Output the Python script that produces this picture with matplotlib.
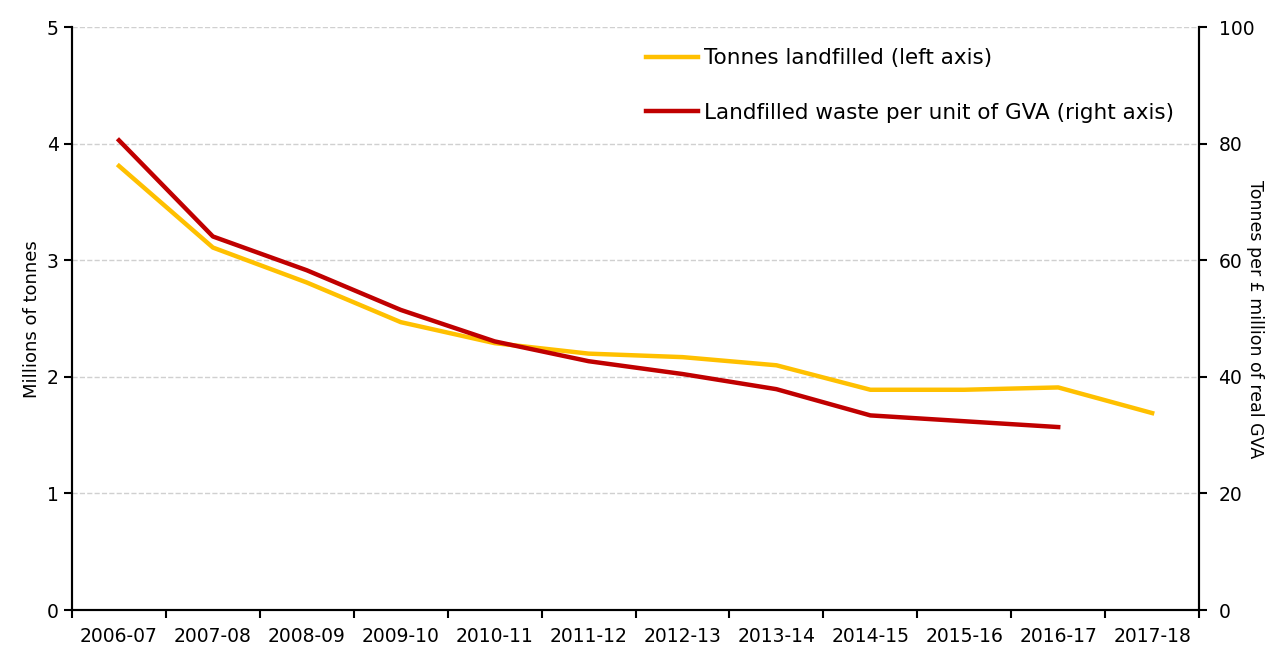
import matplotlib.pyplot as plt
import numpy as np

years = ['2006-07', '2007-08', '2008-09', '2009-10', '2010-11', '2011-12',
         '2012-13', '2013-14', '2014-15', '2015-16', '2016-17', '2017-18']
tonnes = [3.81, 3.11, 2.81, 2.47, 2.29, 2.20, 2.17, 2.10, 1.89, 1.89, 1.91, 1.69]
per_gva = [80.6, 64.1, 58.3, 51.5, 46.1, 42.7, 40.5, 37.9, 33.4, 32.4, 31.4]

plt.rcParams['font.family'] = 'DejaVu Sans'

fig, ax = plt.subplots(figsize=(12.77, 6.49), dpi=100)
fig.subplots_adjust(left=0.0564, right=0.939, top=0.958, bottom=0.06)
ax2 = ax.twinx()

x = np.arange(len(years))
l1, = ax.plot(x, tonnes, color='#ffc000', lw=3.2, label='Tonnes landfilled (left axis)', zorder=3)
l2, = ax2.plot(x[:len(per_gva)], per_gva, color='#c00000', lw=3.2,
               label='Landfilled waste per unit of GVA (right axis)', zorder=3)

ax.set_xlim(-0.5, len(years) - 0.5)
ax.set_ylim(0, 5)
ax2.set_ylim(0, 100)
ax.set_yticks(range(0, 6))
ax2.set_yticks(range(0, 101, 20))
ax.set_xticks(x)
ax.set_xticklabels(years, fontsize=13.5)
ax.set_xticks(np.arange(-0.5, len(years), 1), minor=True)
ax.tick_params(axis='x', which='major', length=0, pad=12)
ax.tick_params(axis='x', which='minor', length=6, width=1.5)
ax.tick_params(axis='y', labelsize=13.5, length=6, width=1.5)
ax2.tick_params(axis='y', labelsize=13.5, length=6, width=1.5, pad=8)

ax.yaxis.grid(True, color='#d0d0d0', ls='--', lw=1)
ax.set_axisbelow(True)
for s in ['top']:
    ax.spines[s].set_visible(False)
    ax2.spines[s].set_visible(False)
for a in (ax, ax2):
    for s in ['left', 'right', 'bottom']:
        a.spines[s].set_linewidth(1.5)

ax.set_ylabel('Millions of tonnes', fontsize=13)
ax2.set_ylabel('Tonnes per £ million of real GVA', fontsize=12.5, rotation=270, labelpad=7)

ax2.legend(handles=[l1, l2], loc='upper right', bbox_to_anchor=(0.995, 0.997), frameon=False,
           fontsize=15.5, handlelength=2.4, labelspacing=1.6, handletextpad=0.3)

plt.savefig('out.png')
